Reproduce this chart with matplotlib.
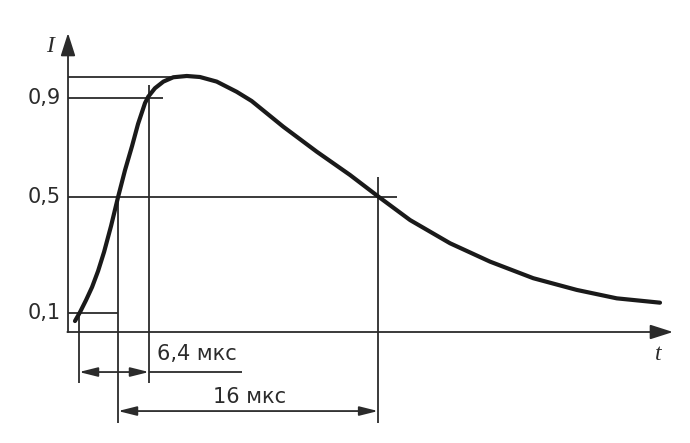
import numpy as np
import matplotlib
matplotlib.use("Agg")
import matplotlib.pyplot as plt

# pulse shape, time in us, current relative to the peak
t_us = [0.43, 0.74, 1.11, 1.48, 1.85, 2.22, 2.65, 3.08, 3.51, 3.94, 4.31,
        4.74, 4.94, 5.35, 5.87, 6.48, 7.31, 8.12, 9.15, 10.38, 11.3, 13.25,
        15.31, 17.35, 19.1, 21.05, 23.51, 25.97, 28.63, 31.31, 33.77, 36.43]
current = [0.043, 0.078, 0.125, 0.176, 0.239, 0.314, 0.416, 0.529, 0.635,
           0.729, 0.816, 0.898, 0.923, 0.956, 0.982, 0.999, 1.004, 1.0, 0.982,
           0.942, 0.906, 0.805, 0.707, 0.616, 0.531, 0.439, 0.348, 0.276,
           0.211, 0.165, 0.132, 0.115]

level_labels = ["0,1", "0,5", "0,9"]
level_y = [0.075, 0.53, 0.918]
peak_t, peak_y = 7.4, 1.0

# crossing times used for the dimension lines
t_01 = 0.68
t_05 = 3.08
t_09 = 4.98
t_05b = 19.08
rise_text = "6,4 мкс"
width_text = "16 мкс"

ink = "#2b2b2b"
fig = plt.figure(figsize=(6.9, 4.43), dpi=100)
ax = fig.add_axes([0, 0, 1, 1])
ax.set_xlim(-4.185, 38.277)
ax.set_ylim(-0.4353, 1.302)
ax.axis("off")

thin = dict(color=ink, lw=1.3, solid_capstyle="butt")

# axes with arrows
head = "-|>,head_length=1.0,head_width=0.32"
ax.annotate("", xy=(0, 1.1725), xytext=(0, 0),
            arrowprops=dict(arrowstyle=head, mutation_scale=14, lw=1.3,
                            color=ink, shrinkA=0, shrinkB=0))
ax.annotate("", xy=(37.23, 0), xytext=(-0.04, 0),
            arrowprops=dict(arrowstyle=head, mutation_scale=14, lw=1.3,
                            color=ink, shrinkA=0, shrinkB=0))
ax.text(-1.1, 1.12, "I", fontsize=17, style="italic", family="Liberation Serif",
        ha="center", va="center", color=ink)
ax.text(36.3, -0.09, "t", fontsize=17, style="italic", family="Liberation Serif",
        ha="center", va="center", color=ink)

# level lines
ax.plot([0, peak_t], [peak_y, peak_y], **thin)
ax.plot([0, 5.85], [level_y[2], level_y[2]], **thin)
ax.plot([0, 20.25], [level_y[1], level_y[1]], **thin)
ax.plot([0, t_05], [level_y[0], level_y[0]], **thin)
for lab, yv in zip(level_labels, level_y):
    ax.text(-0.45, yv, lab, fontsize=15, family="DejaVu Sans",
            ha="right", va="center", color=ink)

# extension lines
ax.plot([t_01, t_01], [level_y[0], -0.2], **thin)
ax.plot([t_05, t_05], [level_y[1], -0.357], **thin)
ax.plot([t_09, t_09], [0.969, -0.2], **thin)
ax.plot([t_05b, t_05b], [0.608, -0.357], **thin)

# dimension lines
dim = dict(arrowstyle="<|-|>,head_length=0.8,head_width=0.2",
           mutation_scale=14, lw=1.3, color=ink, shrinkA=0, shrinkB=0)
ax.plot([t_09, 10.71], [-0.157, -0.157], **thin)
ax.annotate("", xy=(t_09, -0.157), xytext=(t_01, -0.157), arrowprops=dim)
ax.annotate("", xy=(t_05b, -0.31), xytext=(t_05, -0.31), arrowprops=dim)
ax.text(5.48, -0.086, rise_text, fontsize=15, family="DejaVu Sans",
        ha="left", va="center", color=ink)
ax.text(8.92, -0.255, width_text, fontsize=15, family="DejaVu Sans",
        ha="left", va="center", color=ink)

# the pulse
ax.plot(t_us, current, color="#1a1a1a", lw=3.0, solid_capstyle="round",
        solid_joinstyle="round")

fig.savefig("out.png", dpi=100, facecolor="white")
